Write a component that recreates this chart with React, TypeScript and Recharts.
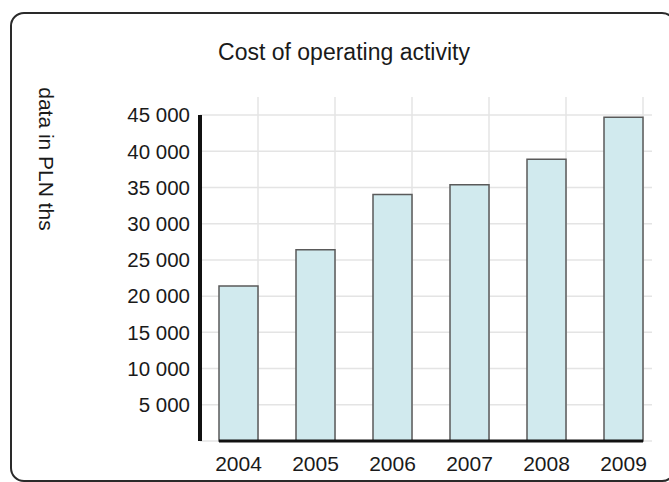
import React from "react";
import {
  BarChart,
  Bar,
  XAxis,
  YAxis,
  CartesianGrid,
  ReferenceLine,
} from "recharts";

const years = ["2004", "2005", "2006", "2007", "2008", "2009"];
const costs = [21400, 26400, 34050, 35400, 38900, 44700];
const yTicks = [0, 5000, 10000, 15000, 20000, 25000, 30000, 35000, 40000, 45000];
const Y_MAX = 47500;

const data = years.map((year, i) => ({ year, cost: costs[i], pos: i + 0.5 }));

// bar takes about half of each category band
const BAR_RATIO = 39 / 77;
const gridXTicks = years.map((_, i) => i + 0.5 + BAR_RATIO / 2);

const FONT = '"Liberation Sans", Arial, sans-serif';

const fmt = (v: number) =>
  v === 0 ? "" : String(v).replace(/\B(?=(\d{3})+(?!\d))/g, " ");

// bands run a little past the grid's right end
const OVER = 10;
const overhang = { left: 0, right: -OVER };

const verticalGrid = ({ offset }: any) =>
  gridXTicks.map(
    (t) => offset.left + (t / years.length) * (offset.width + OVER)
  );

const horizontalGrid = ({ offset }: any) =>
  yTicks.map((v) => offset.top + offset.height * (1 - v / Y_MAX));

export default function App() {
  return (
    <div
      style={{
        position: "absolute",
        left: 0,
        top: 0,
        width: 669,
        height: 482,
        overflow: "hidden",
        background: "#fff",
        fontFamily: FONT,
      }}
    >
      <div
        style={{
          position: "absolute",
          left: 10,
          top: 12,
          width: 662,
          height: 466,
          border: "2px solid #2a2a2a",
          borderRadius: 14,
        }}
      />
      <BarChart
        width={669}
        height={482}
        data={data}
        margin={{ top: 97, right: 17, bottom: 11, left: 0 }}
        barCategoryGap={`${((1 - BAR_RATIO) / 2) * 100}%`}
        style={{ position: "absolute", left: 0, top: 0 }}
      >
        <CartesianGrid
          stroke="#e4e4e4"
          strokeWidth={1.5}
          verticalCoordinatesGenerator={verticalGrid}
          horizontalCoordinatesGenerator={horizontalGrid}
        />
        <XAxis
          dataKey="year"
          axisLine={false}
          tickLine={false}
          tickSize={6}
          tickMargin={9}
          padding={overhang}
          tick={{ fontSize: 21, fill: "#1a1a1a", fontFamily: FONT }}
          interval={0}
        />
        <XAxis
          xAxisId="num"
          type="number"
          dataKey="pos"
          domain={[0, 6]}
          padding={overhang}
          hide
        />
        <YAxis
          width={200}
          domain={[0, Y_MAX]}
          ticks={yTicks}
          interval={0}
          axisLine={false}
          tickLine={false}
          tickSize={0}
          tickMargin={10}
          tickFormatter={fmt}
          tick={{ fontSize: 20.5, fill: "#1a1a1a", fontFamily: FONT }}
        />
        <Bar
          dataKey="cost"
          fill="#d1eaee"
          stroke="#5a5a5a"
          strokeWidth={1.5}
          isAnimationActive={false}
        />
        <ReferenceLine
          xAxisId="num"
          segment={[
            { x: 0.5 - BAR_RATIO / 2, y: 0 },
            { x: 5.5 + BAR_RATIO / 2, y: 0 },
          ]}
          stroke="#111"
          strokeWidth={3}
        />
        <ReferenceLine
          xAxisId="num"
          segment={[
            { x: 0, y: 0 },
            { x: 0, y: 45000 },
          ]}
          stroke="#111"
          strokeWidth={4}
        />
      </BarChart>
      <svg
        width={669}
        height={482}
        style={{ position: "absolute", left: 0, top: 0, pointerEvents: "none" }}
      >
        <text
          x={344}
          y={60}
          textAnchor="middle"
          fontSize={23}
          fill="#1a1a1a"
          fontFamily={FONT}
        >
          Cost of operating activity
        </text>
        <text
          transform="translate(46,159) rotate(90)"
          textAnchor="middle"
          dominantBaseline="central"
          fontSize={21}
          fill="#1a1a1a"
          fontFamily={FONT}
        >
          data in PLN ths
        </text>
      </svg>
    </div>
  );
}
